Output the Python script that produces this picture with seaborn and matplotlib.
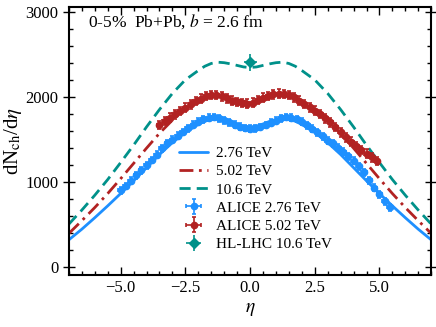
import numpy as np
import pandas as pd
import matplotlib
matplotlib.use("Agg")
import matplotlib.pyplot as plt
import seaborn as sns
from matplotlib.ticker import MultipleLocator, FuncFormatter

# ---------------- data ----------------
eta_model = [-7, -6.5, -6, -5.5, -5, -4.5, -4, -3.5, -3, -2.5, -2, -1.75, -1.5, -1.25, -1, -0.75, -0.5, -0.25,
             0, 0.25, 0.5, 0.75, 1, 1.25, 1.5, 1.75, 2, 2.5, 3, 3.5, 4, 4.5, 5, 5.5, 6, 6.5, 7]
model_276 = [315, 440, 575, 715, 860, 1010, 1165, 1320, 1460, 1580, 1675, 1712, 1735, 1742, 1732, 1710, 1680, 1655,
             1645, 1655, 1680, 1710, 1732, 1742, 1735, 1712, 1675, 1580, 1460, 1320, 1165, 1010, 860, 715, 575, 440, 315]
model_502 = [390, 540, 695, 860, 1035, 1215, 1395, 1570, 1725, 1855, 1955, 1990, 2012, 2020, 2012, 1992, 1968, 1948,
             1940, 1948, 1968, 1992, 2012, 2020, 2012, 1990, 1955, 1855, 1725, 1570, 1395, 1215, 1035, 860, 695, 540, 390]
model_106 = [500, 665, 840, 1025, 1225, 1430, 1645, 1850, 2040, 2200, 2310, 2360, 2393, 2408, 2402, 2388, 2370, 2352,
             2345, 2352, 2370, 2388, 2402, 2408, 2393, 2360, 2310, 2200, 2040, 1850, 1645, 1430, 1225, 1025, 840, 665, 500]

eta_alice276 = [-5.0, -4.8, -4.6, -4.4, -4.2, -4.0, -3.8, -3.6, -3.4, -3.2, -3.0, -2.8, -2.6, -2.4, -2.2, -2.0,
                -1.8, -1.6, -1.4, -1.2, -1.0, -0.8, -0.6, -0.4, -0.2, 0.0, 0.2, 0.4, 0.6, 0.8, 1.0, 1.2, 1.4,
                1.6, 1.8, 2.0, 2.2, 2.4, 2.6, 2.8, 3.0, 3.2, 3.4, 3.6, 3.8, 4.0, 4.2, 4.4, 4.6, 4.8, 5.0, 5.2, 5.4]
alice276 = [900, 950, 1010, 1075, 1135, 1195, 1255, 1320, 1395, 1450, 1495, 1540, 1585, 1630, 1670, 1705,
            1735, 1755, 1762, 1748, 1725, 1698, 1672, 1650, 1632, 1625, 1630, 1645, 1668, 1695, 1720, 1748, 1762,
            1756, 1738, 1705, 1665, 1625, 1580, 1535, 1485, 1450, 1400, 1355, 1300, 1245, 1180, 1110, 1015, 930,
            850, 770, 700]

eta_alice502 = [-3.5, -3.3, -3.1, -2.9, -2.7, -2.5, -2.3, -2.1, -1.9, -1.7, -1.5, -1.3, -1.1, -0.9, -0.7, -0.5,
                -0.3, -0.1, 0.1, 0.3, 0.5, 0.7, 0.9, 1.1, 1.3, 1.5, 1.7, 1.9, 2.1, 2.3, 2.5, 2.7, 2.9, 3.1, 3.3,
                3.5, 3.7, 3.9, 4.1, 4.3, 4.5, 4.7, 4.9]
alice502 = [1665, 1715, 1755, 1792, 1830, 1872, 1912, 1948, 1980, 2008, 2024, 2022, 2006, 1982, 1956, 1936,
            1925, 1920, 1932, 1962, 1990, 2012, 2028, 2038, 2036, 2022, 1992, 1956, 1915, 1876, 1836, 1795, 1745,
            1700, 1642, 1582, 1522, 1472, 1422, 1375, 1330, 1285, 1245]

eta_hl = [0.0]
hl106 = [2405]

err_276 = 40
err_502 = 50
err_hl = 100

# ---------------- style ----------------
sns.set_theme(style="ticks")
plt.rcParams["font.family"] = ["Liberation Serif", "DejaVu Serif"]
plt.rcParams["mathtext.fontset"] = "stix"
plt.rcParams["axes.linewidth"] = 1.5
for k in ["text.color", "axes.labelcolor", "xtick.color", "ytick.color", "axes.edgecolor"]:
    plt.rcParams[k] = "black"

c_blue = "#1E90FF"
c_red = "#B22222"
c_teal = "#00918A"

fig = plt.figure(figsize=(4.36, 3.27), dpi=100)
ax = fig.add_axes([0.158, 0.159, 0.831, 0.820])

dfm = pd.DataFrame({"eta": eta_model, "m276": model_276, "m502": model_502, "m106": model_106})
sns.lineplot(data=dfm, x="eta", y="m276", ax=ax, color=c_blue, lw=2.0, linestyle="-", label="2.76 TeV")
sns.lineplot(data=dfm, x="eta", y="m502", ax=ax, color=c_red, lw=2.0, linestyle=(0, (5, 2, 1, 2)), label="5.02 TeV")
sns.lineplot(data=dfm, x="eta", y="m106", ax=ax, color=c_teal, lw=2.0, linestyle=(0, (4, 2.2)), label="10.6 TeV")

ax.errorbar(eta_alice276, alice276, xerr=0.1, yerr=err_276, fmt="o", color=c_blue, ms=4.5,
            elinewidth=1.2, capsize=1.5, capthick=1.2, label="ALICE 2.76 TeV", zorder=3)
ax.errorbar(eta_alice502, alice502, xerr=0.1, yerr=err_502, fmt="o", color=c_red, ms=4.5,
            elinewidth=1.2, capsize=1.5, capthick=1.2, label="ALICE 5.02 TeV", zorder=3)
ax.errorbar(eta_hl, hl106, xerr=0.25, yerr=err_hl, fmt="D", color=c_teal, ms=5,
            elinewidth=1.2, capsize=0, label="HL-LHC 10.6 TeV", zorder=4)

ax.set_xlim(-7, 7)
ax.set_ylim(-100, 3060)
ax.xaxis.set_major_locator(MultipleLocator(2.5))
ax.xaxis.set_minor_locator(MultipleLocator(0.5))
ax.yaxis.set_major_locator(MultipleLocator(1000))
ax.yaxis.set_minor_locator(MultipleLocator(200))
ax.xaxis.set_major_formatter(FuncFormatter(lambda v, p: f"{v:.1f}".replace("-", "\u2212")))
ax.tick_params(which="both", direction="in", top=True, right=True, labelsize=12, width=1.0)
ax.tick_params(which="major", length=6)
ax.tick_params(which="minor", length=3)
ax.tick_params(axis="y", which="major", direction="inout", length=8)

ax.set_xlabel(r"$\eta$", fontsize=14, labelpad=4)
ax.set_ylabel(r"dN$_{\rm ch}$/d$\eta$", fontsize=15, labelpad=1)

ax.text(0.052, 0.945, r"0-5%  Pb+Pb, $b$ = 2.6 fm", transform=ax.transAxes, fontsize=12.5,
        ha="left", va="center")

ax.legend(loc="upper left", bbox_to_anchor=(0.275, 0.52), frameon=False, fontsize=11,
          handlelength=1.9, handletextpad=0.5, labelspacing=0.3, borderpad=0.2)

fig.savefig("out.png", dpi=100)
